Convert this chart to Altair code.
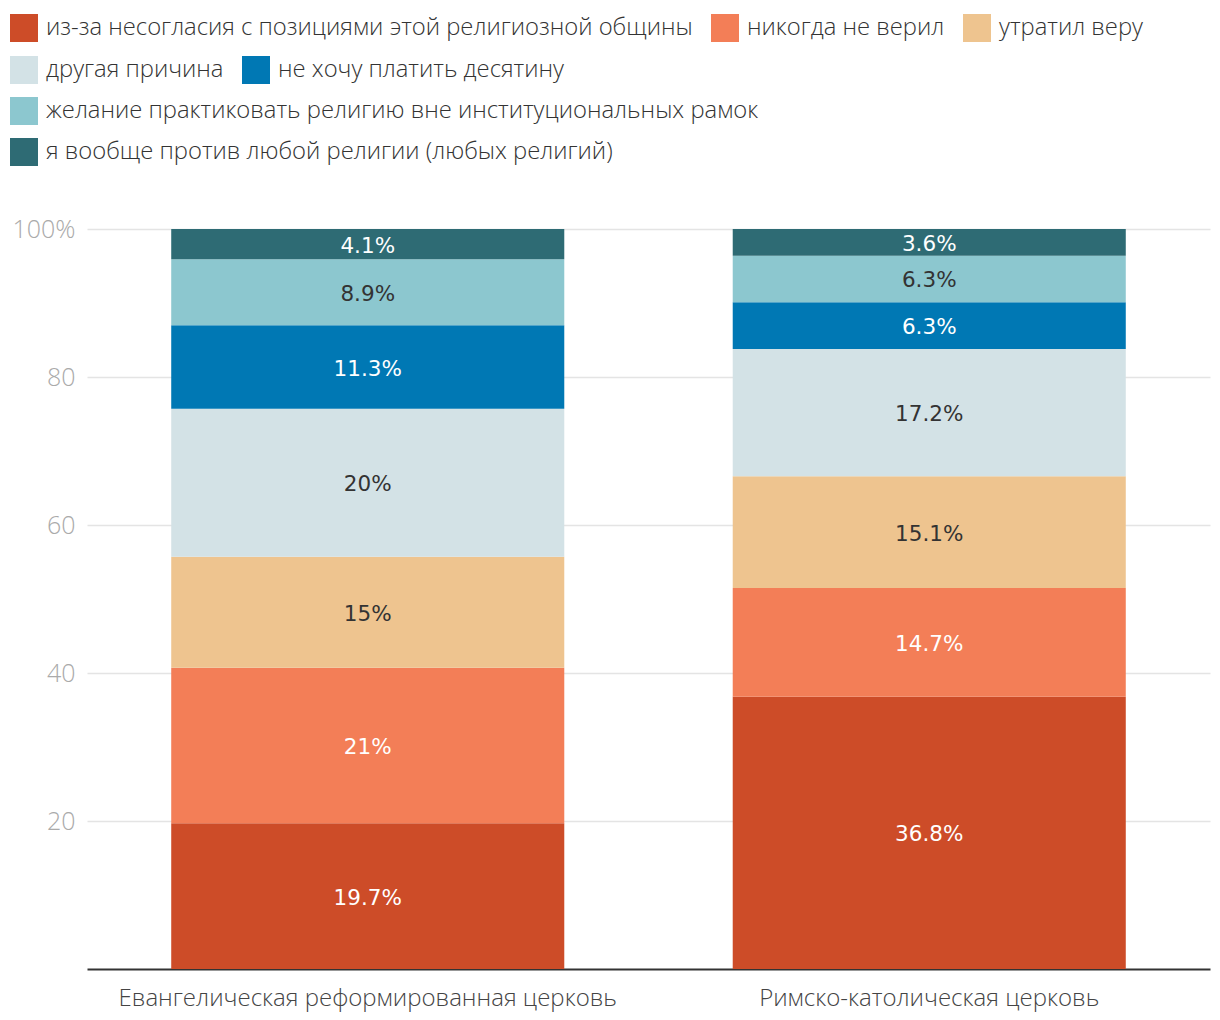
import altair as alt
import pandas as pd

churches = ["Евангелическая реформированная церковь", "Римско-католическая церковь"]
categories = [
    "из-за несогласия с позициями этой религиозной общины",
    "никогда не верил",
    "утратил веру",
    "другая причина",
    "не хочу платить десятину",
    "желание практиковать религию вне институциональных рамок",
    "я вообще против любой религии (любых религий)",
]
ev_values = [19.7, 21, 15, 20, 11.3, 8.9, 4.1]
rc_values = [36.8, 14.7, 15.1, 17.2, 6.3, 6.3, 3.6]
colors = ["#CD4C28", "#F37E57", "#EEC48F", "#D3E2E6", "#0078B4", "#8CC7CF", "#2E6B74"]
text_colors = ["#ffffff", "#ffffff", "#333333", "#333333", "#ffffff", "#333333", "#ffffff"]
legend_rows = [[0, 1, 2], [3, 4], [5], [6]]
legend_y = [-215, -173, -132, -91]
y_ticks = [20, 40, 60, 80, 100]

rows = []
for ch, vals in zip(churches, [ev_values, rc_values]):
    for i, (cat, v) in enumerate(zip(categories, vals)):
        rows.append({
            "church": ch, "cat": cat, "order": i, "value": v,
            "label": f"{v:g}%", "tcolor": text_colors[i], "grp": next(r for r, idx in enumerate(legend_rows) if i in idx),
        })
df = pd.DataFrame(rows)

base = alt.Chart(df).transform_stack(
    stack="value", as_=["y0", "y1"], groupby=["church"],
    sort=[alt.SortField("order", order="ascending")],
)

x_enc = alt.X(
    "church:N", sort=churches, title=None,
    scale=alt.Scale(paddingInner=0.3, paddingOuter=0.15),
    axis=alt.Axis(labelAngle=0, labelFont="Open Sans", labelFontWeight=300, labelFontSize=24,
                  labelColor="#444", labelPadding=17, ticks=False, domainColor="#333",
                  domainWidth=2, grid=False, labelLimit=0),
)
y_axis = alt.Axis(values=y_ticks, title=None, domain=False, ticks=False, grid=True,
                  gridColor="#e4e4e4", gridWidth=1.5, labelFont="Open Sans", labelFontWeight=300,
                  labelFontSize=25, labelColor="#aaaaaa", labelPadding=12,
                  labelExpr="datum.value == 100 ? '100%' : datum.label")

layers = []
for r, idx in enumerate(legend_rows):
    dom = [categories[i] for i in idx]
    rng = [colors[i] for i in idx]
    layer = base.transform_filter(alt.datum.grp == r).mark_bar(strokeWidth=0).encode(
        x=x_enc,
        y=alt.Y("y0:Q", scale=alt.Scale(domain=[0, 100]), axis=y_axis),
        y2="y1:Q",
        color=alt.Color("cat:N", scale=alt.Scale(domain=dom, range=rng),
                        legend=alt.Legend(orient="none", legendX=-77, legendY=legend_y[r],
                                          direction="horizontal", title=None,
                                          symbolType="square", symbolSize=784,
                                          symbolStrokeWidth=0, labelFont="Open Sans",
                                          labelFontWeight=300, labelFontSize=23.8,
                                          labelColor="#333", labelLimit=0,
                                          columnPadding=18, labelOffset=8)),
    )
    layers.append(layer)

text = base.transform_calculate(mid="(datum.y0 + datum.y1) / 2").mark_text(
    font="DejaVu Sans", fontSize=21.5, baseline="middle", align="center", dy=2.5
).encode(
    x=x_enc,
    y=alt.Y("mid:Q", scale=alt.Scale(domain=[0, 100]), axis=y_axis),
    text="label:N",
    color=alt.Color("tcolor:N", scale=None, legend=None),
)

chart = alt.layer(*layers, text).resolve_scale(color="independent").properties(
    width=1123, height=740, background="white",
    padding={"left": 2, "top": 6, "right": 2, "bottom": 2}
).configure_view(stroke="transparent", strokeWidth=0)

chart.save("out.html", embed_options={"renderer": "svg", "actions": False})
